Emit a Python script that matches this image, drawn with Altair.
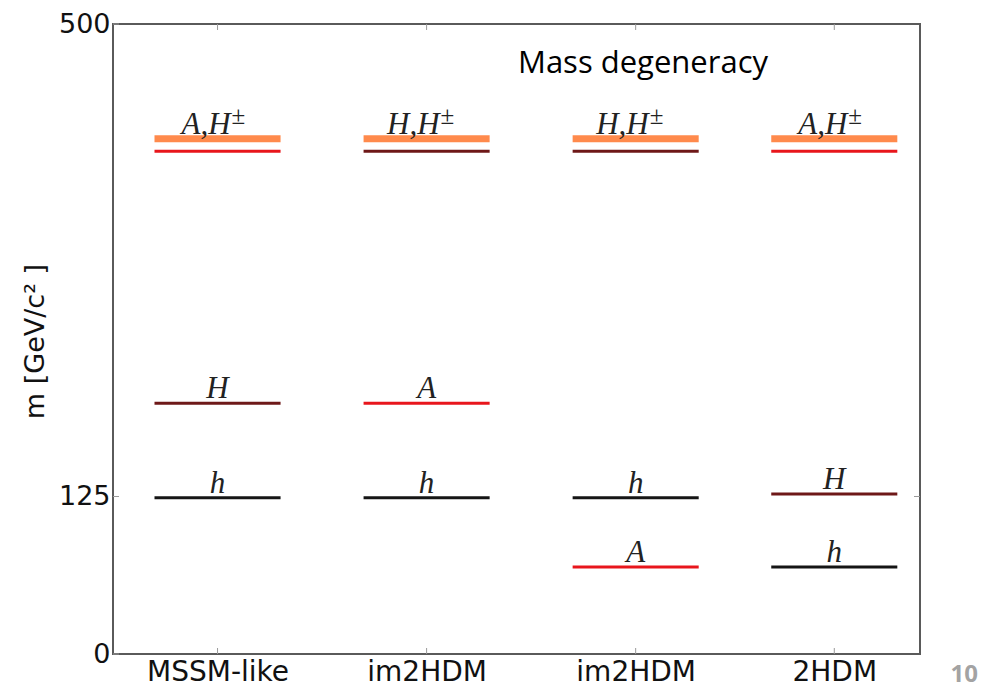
import altair as alt
import pandas as pd

# Models along the horizontal axis and where each column sits
model_names = ["MSSM-like", "im2HDM", "im2HDM", "2HDM"]
model_pos = [0.5, 1.5, 2.5, 3.45]

# Mass levels (GeV/c^2) for each model
level_model = [0, 0, 0, 0, 1, 1, 1, 1, 2, 2, 2, 2, 3, 3, 3, 3]
level_particle = ["H±", "A", "H", "h",
                  "H±", "H", "A", "h",
                  "H±", "H", "h", "A",
                  "H±", "A", "H", "h"]
level_mass = [409, 399, 199, 124,
              409, 399, 199, 124,
              409, 399, 124, 69,
              409, 399, 127, 69]

# Level labels: main text, superscript and the level they sit on
label_model = [0, 0, 0, 1, 1, 1, 2, 2, 2, 3, 3, 3]
label_main = ["A,H", "H", "h", "H,H", "A", "h", "H,H", "h", "A", "A,H", "H", "h"]
label_sup = ["±", "", "", "±", "", "", "±", "", "", "±", "", ""]
label_mass = [409, 199, 124, 409, 199, 124, 409, 124, 69, 409, 127, 69]

y_ticks = [0, 125, 500]
y_ticks_right = [125]

particles = ["H±", "A", "H", "h"]
particle_colors = ["#FF8A4C", "#E8161C", "#6E1818", "#151515"]

levels = pd.DataFrame({
    "pos": [model_pos[i] for i in level_model],
    "particle": level_particle,
    "mass": level_mass,
})
labels = pd.DataFrame({
    "pos": [model_pos[i] for i in label_model],
    "main": label_main,
    "sup": label_sup,
    "mass": label_mass,
})
xticks = pd.DataFrame({"pos": model_pos})
yticks = pd.DataFrame({"mass": y_ticks})
yticks_r = pd.DataFrame({"mass": y_ticks_right})

xscale = alt.Scale(domain=[0, 3.86], nice=False, zero=False)
yscale = alt.Scale(domain=[0, 500], nice=False, zero=False)

label_lookup = "[" + ",".join(f"'{n}'" for n in model_names) + "]"
pos_lookup = "[" + ",".join(str(p) for p in model_pos) + "]"

x_axis = alt.Axis(
    values=model_pos,
    labelExpr=f"{label_lookup}[indexof({pos_lookup}, datum.value)]",
    labelPadding=4,
    labelFontSize=28,
    title="10",
    titleX=837, titleY=32, titleAlign="left", titleBaseline="bottom",
    titleFont="Open Sans", titleFontSize=24, titleFontWeight="bold",
    titleColor="#A3A3A3",
)
y_axis = alt.Axis(
    values=y_ticks,
    labelPadding=3,
    title="m [GeV/c² ]",
    titleX=-70, titleY=317, titleAngle=270, titleAlign="center",
    titleBaseline="alphabetic",
)

X = alt.X("pos:Q", scale=xscale, axis=x_axis)
Y = alt.Y("mass:Q", scale=yscale, axis=y_axis)

rules = alt.Chart(levels).transform_calculate(
    left="datum.pos - 0.3015", right="datum.pos + 0.3015"
).mark_rule(strokeCap="butt").encode(
    x=alt.X("left:Q", scale=xscale, axis=x_axis),
    x2="right:Q",
    y=Y,
    color=alt.Color("particle:N", scale=alt.Scale(domain=particles, range=particle_colors), legend=None),
    strokeWidth=alt.condition(alt.datum.particle == "H±", alt.value(7), alt.value(3)),
)

text_font = dict(font="Liberation Serif", fontStyle="italic", fontSize=31, color="#222")

plain_labels = alt.Chart(labels).transform_filter("datum.sup == ''").mark_text(
    align="center", baseline="alphabetic", dy=-5, **text_font
).encode(x=X, y=Y, text="main:N")

main_labels = alt.Chart(labels).transform_filter("datum.sup != ''").mark_text(
    align="right", baseline="alphabetic", dx=13, dy=-5, **text_font
).encode(x=X, y=Y, text="main:N")

sup_labels = alt.Chart(labels).transform_filter("datum.sup != ''").mark_text(
    align="left", baseline="alphabetic", dx=14, dy=-15,
    font="Liberation Serif", fontSize=25, color="#222"
).encode(x=X, y=Y, text="sup:N")

# Inward tick marks, as on the framed axes
tick_style = dict(color="#9A9A9A", strokeWidth=1)
bottom_ticks = alt.Chart(xticks).mark_rule(**tick_style).encode(
    x=X, y=alt.value(630), y2=alt.value(624)
)
top_ticks = alt.Chart(xticks).mark_rule(**tick_style).encode(
    x=X, y=alt.value(0), y2=alt.value(6)
)
left_ticks = alt.Chart(yticks).mark_rule(**tick_style).encode(
    y=Y, x=alt.value(0), x2=alt.value(6)
)
right_ticks = alt.Chart(yticks_r).mark_rule(**tick_style).encode(
    y=Y, x=alt.value(807), x2=alt.value(801)
)

chart = alt.layer(
    rules, bottom_ticks, top_ticks, left_ticks, right_ticks,
    plain_labels, main_labels, sup_labels,
).properties(
    width=807,
    height=630,
    autosize=alt.AutoSizeParams(type="none"),
    padding={"left": 113, "top": 24, "right": 75, "bottom": 33},
    title=alt.TitleParams(
        "Mass degeneracy", anchor="start", frame="group", orient="top",
        dx=405, dy=94, offset=0, baseline="alphabetic", align="left",
        font="Open Sans", fontSize=31, fontWeight="normal", color="#000",
    ),
).configure_view(
    stroke="#5A5A5A", strokeWidth=2
).configure_axis(
    domain=False, ticks=False, grid=False,
    labelFont="DejaVu Sans", labelFontSize=27, labelColor="#111",
    titleFont="DejaVu Sans", titleFontSize=27, titleFontWeight="normal", titleColor="#111",
)

chart.save("out.html", embed_options={"renderer": "svg", "actions": False})
